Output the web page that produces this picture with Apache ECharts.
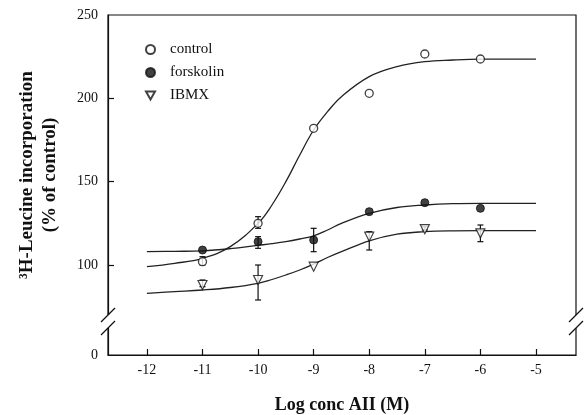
<!DOCTYPE html>
<html>
<head>
<meta charset="utf-8">
<script src="https://cdn.jsdelivr.net/npm/echarts@6/dist/echarts.min.js"></script>
<style>
  html, body { margin: 0; padding: 0; background: #fff; }
  #chart { width: 584px; height: 415px; }
</style>
</head>
<body>
<div id="chart"></div>
<script>
// log conc of AII for the measured points
var doses = [-11, -10, -9, -8, -7, -6];
var controlPts = [102, 125, 182, 203, 226.6, 223.6];
var forskolinPts = [109, 114, 115, 132, 137.4, 134];
var ibmxPts = [88, 91, 99, 117, 121.5, 119];

// error bars: [dose, low, high]
var controlErr = [[-11, 100, 105], [-10, 122, 129]];
var forskolinErr = [[-10, 110, 117], [-9, 108, 122]];
var ibmxErr = [[-11, 87, 91], [-10, 79, 100], [-8, 109, 120], [-7, 121, 123], [-6, 114, 124]];

// fitted curves
var fitX = [-12, -11.5, -11, -10.5, -10, -9.75, -9.5, -9.25, -9, -8.75, -8.5, -8, -7.5, -7, -6.5, -6, -5.5, -5];
var controlFit = [99, 101, 104, 111, 125, 136, 150, 166, 181, 192, 201, 213, 219, 222, 223, 223.5, 223.5, 223.5];
var forskolinFit = [108, 108.2, 108.5, 109.8, 111.8, 112.8, 114, 115.6, 117.5, 121, 125, 131, 134.5, 136, 136.8, 137, 137, 137];
var ibmxFit = [83, 84, 85, 86.5, 89, 91.3, 94, 97, 100.5, 104.5, 108, 114.5, 118.5, 120, 120.5, 120.6, 120.6, 120.6];

var xTicks = [-12, -11, -10, -9, -8, -7, -6, -5];
var yTicks = [100, 150, 200];
var yLabels = [46, 100, 150, 200, 250]; // 46 is the broken bottom, shown as 0

var FONT = '"Liberation Serif", "Times New Roman", serif';

function pairs(xs, ys) {
    return xs.map(function(x, i) { return [x, ys[i]]; });
}

function errSeries(data) {
    return {
        type: 'custom',
        silent: true,
        z: 3,
        data: data,
        renderItem: function(params, api) {
            var top = api.coord([api.value(0), api.value(2)]);
            var bot = api.coord([api.value(0), api.value(1)]);
            var w = 3;
            var st = { stroke: '#111', lineWidth: 1.2 };
            return {
                type: 'group',
                children: [
                    { type: 'line', shape: { x1: top[0], y1: top[1], x2: bot[0], y2: bot[1] }, style: st },
                    { type: 'line', shape: { x1: top[0] - w, y1: top[1], x2: top[0] + w, y2: top[1] }, style: st },
                    { type: 'line', shape: { x1: bot[0] - w, y1: bot[1], x2: bot[0] + w, y2: bot[1] }, style: st }
                ]
            };
        }
    };
}

function fitSeries(name, ys) {
    return {
        name: name,
        type: 'line',
        data: pairs(fitX, ys),
        smooth: 0.4,
        showSymbol: false,
        silent: true,
        z: 2,
        lineStyle: { color: '#222', width: 1.3 }
    };
}

// break marks on the left and right axes (decoration only)
function breakMark(x) {
    var st = { stroke: '#111', lineWidth: 1.2 };
    return [
        { type: 'rect', z: 100, shape: { x: x - 3, y: 315, width: 6, height: 13 }, style: { fill: '#fff' } },
        { type: 'line', z: 101, shape: { x1: x - 7, y1: 322, x2: x + 7, y2: 308 }, style: st },
        { type: 'line', z: 101, shape: { x1: x - 7, y1: 335, x2: x + 7, y2: 321 }, style: st }
    ];
}

var yTitle = {
    type: 'text',
    z: 100,
    x: 39,
    y: 175,
    rotation: Math.PI / 2,
    style: {
        text: '³H-Leucine incorporation\n(% of control)',
        font: 'bold 19px ' + FONT,
        lineHeight: 23,
        fill: '#111',
        align: 'center',
        verticalAlign: 'middle'
    }
};

var chart = echarts.init(document.getElementById('chart'));
var option = {
    backgroundColor: '#fff',
    animation: false,
    textStyle: { fontFamily: FONT },
    grid: {
        left: 108, right: 8, top: 15, bottom: 60,
        outerBoundsMode: 'none',
        containLabel: false,
        show: true, borderColor: '#111', borderWidth: 1.2
    },
    legend: {
        orient: 'vertical',
        left: 140,
        top: 37,
        itemWidth: 9,
        itemHeight: 9,
        itemGap: 8,
        data: [
            { name: 'control' },
            { name: 'forskolin' },
            { name: 'IBMX', icon: 'path://M0,0 L10,0 L5,9 Z' }
        ],
        textStyle: { fontFamily: FONT, fontSize: 15, color: '#111', padding: [0, 0, 0, 10] }
    },
    xAxis: {
        type: 'value',
        min: -12.7,
        max: -4.28,
        name: 'Log conc AII (M)',
        nameLocation: 'middle',
        nameGap: 41,
        nameTextStyle: { fontFamily: FONT, fontSize: 18, fontWeight: 'bold', color: '#111' },
        axisLine: { lineStyle: { color: '#111', width: 1.2 } },
        axisTick: { inside: true, length: 6, customValues: xTicks, lineStyle: { color: '#111', width: 1.2 } },
        axisLabel: { customValues: xTicks, margin: 8, fontSize: 14, color: '#111', fontFamily: FONT },
        splitLine: { show: false }
    },
    yAxis: {
        type: 'value',
        min: 46,
        max: 250,
        axisLine: { lineStyle: { color: '#111', width: 1.2 } },
        axisTick: { inside: true, length: 6, customValues: yTicks, lineStyle: { color: '#111', width: 1.2 } },
        axisLabel: {
            customValues: yLabels,
            margin: 10,
            fontSize: 14,
            color: '#111',
            fontFamily: FONT,
            formatter: function(v) { return v === 46 ? '0' : String(v); }
        },
        splitLine: { show: false }
    },
    graphic: breakMark(108).concat(breakMark(576), [yTitle]),
    series: [
        fitSeries('control fit', controlFit),
        fitSeries('forskolin fit', forskolinFit),
        fitSeries('IBMX fit', ibmxFit),
        errSeries(controlErr),
        errSeries(forskolinErr),
        errSeries(ibmxErr),
        {
            name: 'control',
            type: 'scatter',
            data: pairs(doses, controlPts),
            symbol: 'circle',
            symbolSize: 8,
            z: 5,
            itemStyle: { color: '#fff', borderColor: '#111', borderWidth: 1.3 }
        },
        {
            name: 'forskolin',
            type: 'scatter',
            data: pairs(doses, forskolinPts),
            symbol: 'circle',
            symbolSize: 8,
            z: 5,
            itemStyle: { color: '#111', borderColor: '#111', borderWidth: 1 }
        },
        {
            name: 'IBMX',
            type: 'scatter',
            data: pairs(doses, ibmxPts),
            symbol: 'triangle',
            symbolRotate: 180,
            symbolSize: 9,
            z: 5,
            itemStyle: { color: '#fff', borderColor: '#111', borderWidth: 1.2 }
        }
    ]
};
chart.setOption(option);
</script>
</body>
</html>
